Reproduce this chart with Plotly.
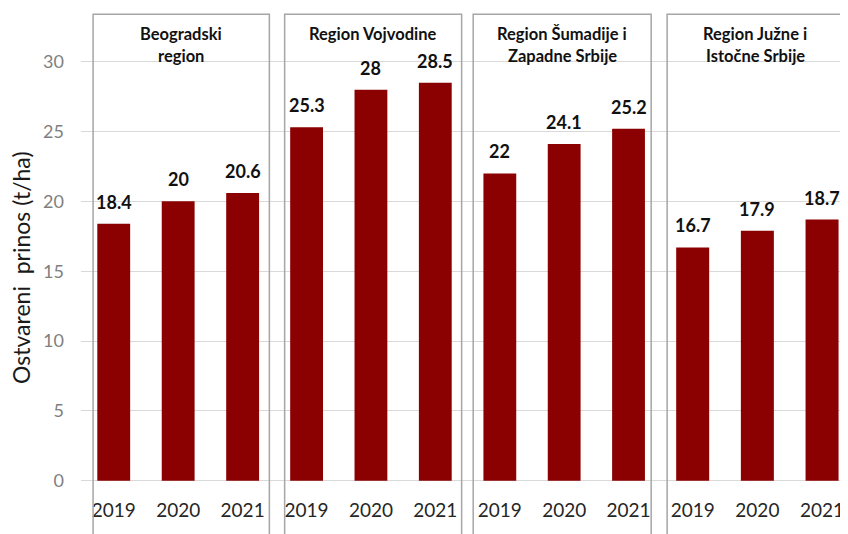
import plotly.graph_objects as go

# the page puts the figure 8px from the top-left corner of the window
OFF = 8
W, H = 848 - OFF, 534 - OFF

years = ["2019", "2020", "2021"]
regions = [
    "Beogradski<br>region",
    "Region Vojvodine",
    "Region Šumadije i<br>Zapadne Srbije",
    "Region Južne i<br>Istočne Srbije",
]
beograd = [18.4, 20, 20.6]
vojvodina = [25.3, 28, 28.5]
sumadija = [22, 24.1, 25.2]
juzna = [16.7, 17.9, 18.7]
series = [beograd, vojvodina, sumadija, juzna]

y_ticks = [0, 5, 10, 15, 20, 25, 30]
y_title = "Ostvareni  prinos (t/ha)"

BAR = "#8b0000"
FONT = "Lato"


def px(x):
    return (x - OFF) / W


def py(y):
    return 1 - (y - OFF) / H


# y axis: value 30 at window px 61.7, value 0 at window px 480.7
ppu = (480.7 - 61.7) / 30.0
y_lo = -((534 - 480.7)) / ppu
y_hi = 30 + (61.7 - OFF) / ppu

# panel boxes (window pixels) and category ranges
boxes_px = [(92.3, 269.0), (284.3, 461.7), (473.3, 651.7), (667.7, 844.0)]
cat_ranges = [(-0.32, 2.415), (-0.341, 2.409), (-0.414, 2.352), (-0.395, 2.324)]

fig = go.Figure()

# full-width background subplot carrying the y gridlines
fig.add_trace(go.Scatter(x=[None], y=[None], xaxis="x", yaxis="y",
                         showlegend=False, hoverinfo="skip"))

layout = dict(
    width=W, height=H,
    margin=dict(l=0, r=0, t=0, b=0),
    paper_bgcolor="white",
    plot_bgcolor="rgba(0,0,0,0)",
    showlegend=False,
    bargap=0.49,
    font=dict(family=FONT, color="#262626"),
    xaxis=dict(domain=[px(80), 1], range=[0, 1], visible=False, fixedrange=True),
    yaxis=dict(domain=[0, 1], range=[y_lo, y_hi], anchor="x",
               tickvals=y_ticks, showgrid=True, gridcolor="#d9d9d9", gridwidth=1,
               zeroline=False, showline=False, ticks="",
               tickfont=dict(size=18, color="#7f7f7f", family=FONT),
               ticklabelstandoff=16),
)

shapes = []
annotations = []
for i, (vals, title) in enumerate(zip(series, regions)):
    ax = f"x{i + 2}"
    axkey = f"xaxis{i + 2}"
    x0, x1 = boxes_px[i]
    layout[axkey] = dict(
        domain=[px(x0), px(x1)], range=list(cat_ranges[i]), type="category",
        anchor="free", position=py(497),
        showgrid=False, zeroline=False, showline=False, ticks="",
        tickfont=dict(size=19, color="#262626", family=FONT),
    )
    fig.add_trace(go.Bar(x=years, y=vals, xaxis=ax, yaxis="y",
                         marker=dict(color=BAR, line=dict(width=0)),
                         hoverinfo="skip"))
    # value labels (category axes take the category index for annotations)
    for k, v in enumerate(vals):
        annotations.append(dict(
            x=k, y=v, xref=ax, yref="y", text=f"{v:g}", showarrow=False,
            yanchor="bottom", yshift=9,
            font=dict(size=18, color="#111111", family=FONT, weight="bold"),
        ))
    # panel box
    shapes.append(dict(type="rect", xref="paper", yref="paper",
                       x0=px(x0), x1=px(x1), y0=-0.05, y1=py(14.3),
                       line=dict(color="#a6a6a6", width=1.5), layer="above"))
    # panel title
    for j, line in enumerate(title.split("<br>")):
        annotations.append(dict(
            x=0.5, xref=f"{ax} domain", y=py(34 + 22 * j), yref="paper",
            text=line, showarrow=False, yanchor="middle",
            font=dict(size=16.5, color="#111111", family=FONT, weight="bold"),
        ))

annotations.append(dict(
    x=px(20), y=py(267), xref="paper", yref="paper", text=y_title,
    textangle=-90, showarrow=False, xanchor="center", yanchor="middle",
    font=dict(size=23, color="#1a1a1a", family=FONT),
))

layout["shapes"] = shapes
layout["annotations"] = annotations
fig.update_layout(**layout)

fig.write_html("out.html")
